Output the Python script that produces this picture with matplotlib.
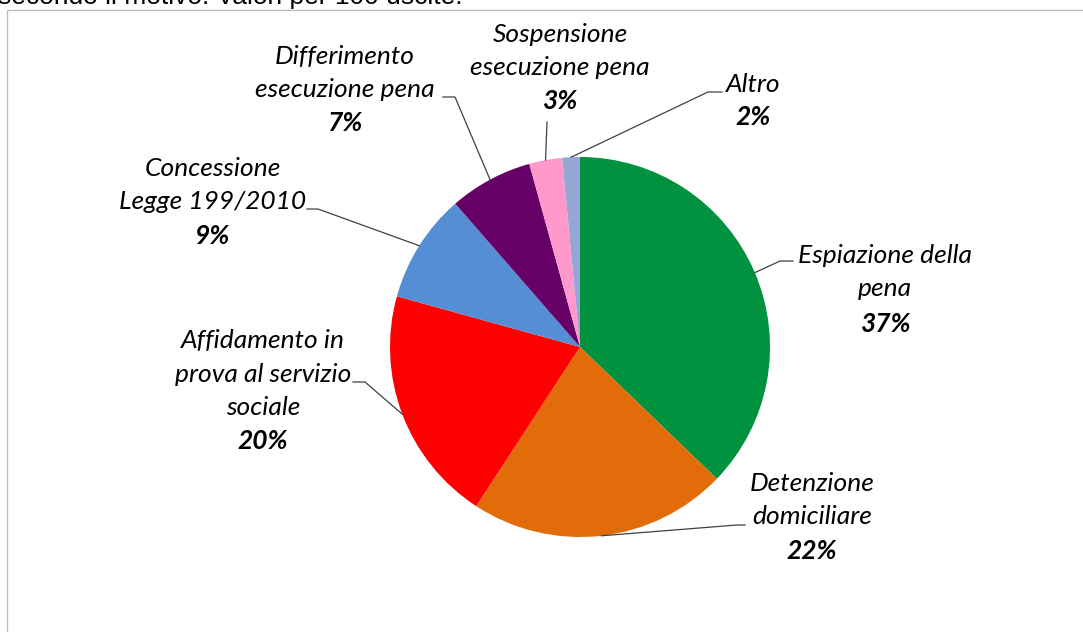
import numpy as np
import matplotlib.pyplot as plt
from matplotlib.patches import Rectangle

# slices, clockwise from the top
labels = ["Espiazione della\npena", "Detenzione\ndomiciliare",
          "Affidamento in\nprova al servizio\nsociale", "Concessione\nLegge 199/2010",
          "Differimento\nesecuzione pena", "Sospensione\nesecuzione pena", "Altro"]
values = [37.2, 22.0, 20.1, 9.3, 7.1, 2.8, 1.5]
pct_text = ["37%", "22%", "20%", "9%", "7%", "3%", "2%"]
colors = ["#00923F", "#E36C0A", "#FF0000", "#558ED5", "#660066", "#FF99CC", "#95A6D2"]

W, H = 1083, 632
cx, cy, R = 580, 347, 190  # pie centre and radius in pixels

# label layout in pixels: name centre, pct y, leader elbow and end
name_xy = [(885, 272), (812, 500), (263, 374), (213, 185), (345, 73), (560, 51), (753, 84)]
pct_y = [324, 551, 441, 236, 123, 101, 117]
elbow = [(780, 261), (737, 525), (365, 382), (318, 209), (455, 97), (547, 122), (708, 92)]
tail = [(793, 261), (745, 525), (353, 382), (307, 209), (443, 97), (547, 122), (722, 92)]

def to_data(p):
    return ((p[0] - cx) / R, (cy - p[1]) / R)

fig = plt.figure(figsize=(W / 100, H / 100), dpi=100)
fig.patches.append(Rectangle((7 / W, -0.1), 1.1, 1.1 - 10 / H, transform=fig.transFigure,
                             fill=False, edgecolor="#c0c0c0", linewidth=1))

# title is cut off by the top edge in the original screenshot
fig.text(-0.002, 1 - 4 / H, "secondo il motivo. Valori per 100 uscite.", fontsize=19,
         family="Liberation Sans", va="baseline", ha="left")

ax = fig.add_axes([(cx - R) / W, (H - cy - R) / H, 2 * R / W, 2 * R / H])
ax.pie(values, colors=colors, startangle=90, counterclock=False, radius=1,
       wedgeprops=dict(linewidth=0))
ax.set_xlim(-1, 1)
ax.set_ylim(-1, 1)
ax.set_aspect("equal")
ax.axis("off")

fam = ["Lato", "DejaVu Sans"]
cum = np.cumsum([0] + values)
for i, lab in enumerate(labels):
    mid = (cum[i] + cum[i + 1]) / 2 / 100 * 2 * np.pi
    rim = (np.sin(mid), np.cos(mid))
    e = to_data(elbow[i])
    t = to_data(tail[i])
    ax.plot([rim[0], e[0], t[0]], [rim[1], e[1], t[1]], color="#404040", lw=0.9,
            clip_on=False)
    nx, ny = to_data(name_xy[i])
    ax.text(nx, ny, lab, ha="center", va="center", fontsize=19, style="italic",
            family=fam, linespacing=1.55, clip_on=False)
    ax.text(nx, to_data((0, pct_y[i]))[1], pct_text[i], ha="center", va="center",
            fontsize=19, style="italic", weight="bold", family=fam, clip_on=False)

fig.savefig("out.png", dpi=100)
